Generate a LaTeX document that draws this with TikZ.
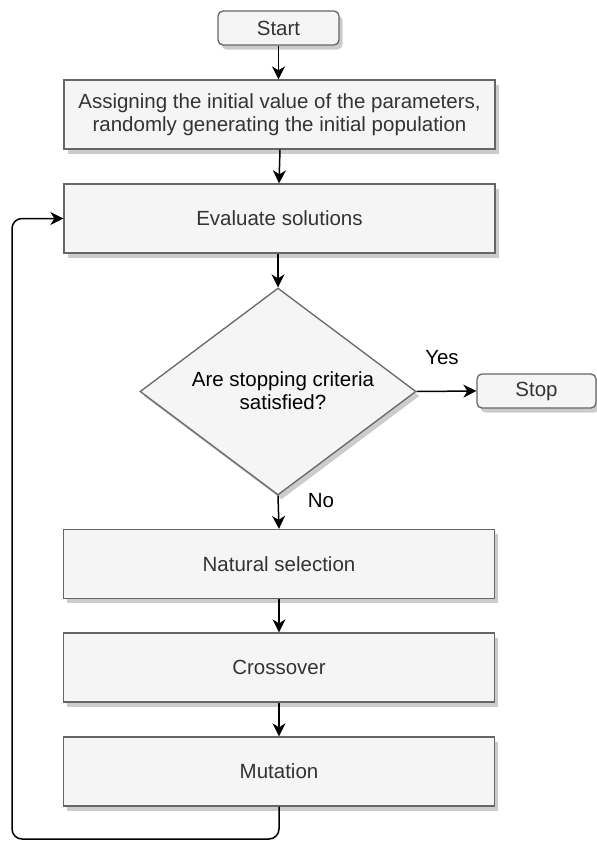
\documentclass[tikz,border=0pt]{standalone}
\usepackage{fontspec}
\setmainfont{Liberation Sans}
\usetikzlibrary{shapes.geometric,arrows.meta,shadows}
\definecolor{boxfill}{HTML}{F5F5F5}
\definecolor{boxline}{HTML}{666666}
\definecolor{boxtext}{HTML}{333333}
\definecolor{shade}{HTML}{CCCCCC}
\tikzset{
  x=1pt, y=-1pt,
  every node/.style={font=\fontsize{20.5pt}{23pt}\selectfont},
  boxshadow/.style={drop shadow={shadow xshift=3.5pt, shadow yshift=-4.5pt, fill=shade, opacity=1}},
  procbox/.style={draw=boxline, fill=boxfill, text=boxtext, line width=1.3pt,
    minimum width=431pt, minimum height=69pt, inner sep=0pt, align=center, boxshadow},
  termbox/.style={draw=boxline, fill=boxfill, text=boxtext, line width=1.3pt,
    rounded corners=5pt, minimum height=34pt, inner sep=0pt, boxshadow},
  decision/.style={diamond, draw=boxline, fill=boxfill, text=black, line width=1.3pt,
    minimum width=276pt, minimum height=207pt, inner sep=0pt, aspect=1.333, align=center, boxshadow},
  flow/.style={draw=black, line width=1.5pt, -{Stealth[length=13pt, width=13pt, inset=4pt]}},
  edgelabel/.style={text=black, inner sep=0pt}
}
\begin{document}
\begin{tikzpicture}
\useasboundingbox (0,0) rectangle (597,841);

\node[termbox, minimum width=121pt] (start) at (278.5,28) {Start};
\node[procbox] (init) at (279.5,114.5) {Assigning the initial value of the parameters,\\randomly generating the initial population};
\node[procbox] (eval) at (279.5,218.5) {Evaluate solutions};
\node[decision] (check) at (278,391.5) {};
\node[text=black, align=center] (checktext) at (283,390.5) {Are stopping criteria\\satisfied?};
\node[termbox, minimum width=119pt] (stop) at (536.5,391) {Stop};
\node[procbox] (select) at (279,564) {Natural selection};
\node[procbox] (cross) at (279,667.5) {Crossover};
\node[procbox] (mut) at (279,771.5) {Mutation};

\node[edgelabel] (yes) at (442,358) {Yes};
\node[edgelabel] (no) at (321,501) {No};

\coordinate (loopA) at (279,839);
\coordinate (loopB) at (12,839);
\coordinate (loopC) at (12,218.5);

\draw[flow] (start.south -| 278.5,0) -- (init.north -| 278.5,0);
\draw[flow] (init.south -| 280,0) -- (eval.north -| 279,0);
\draw[flow] (eval.south -| 278,0) -- (check.north);
\draw[flow] (check.east) -- (stop.west);
\draw[flow] (check.south) -- (select.north -| 279,0);
\draw[flow] (select.south) -- (cross.north);
\draw[flow] (cross.south) -- (mut.north);
\draw[flow, rounded corners=10pt] (mut.south) -- (loopA) -- (loopB) -- (loopC) -- (eval.west);
\end{tikzpicture}
\end{document}
